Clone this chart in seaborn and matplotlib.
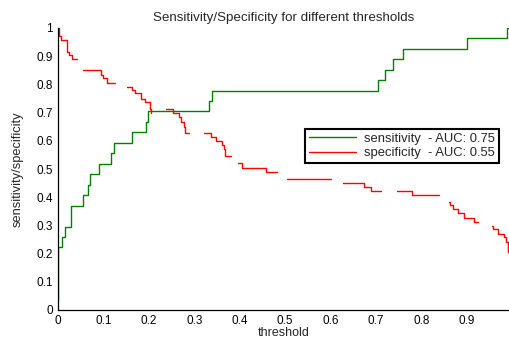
import numpy as np
import pandas as pd
import matplotlib
matplotlib.use("Agg")
import matplotlib.pyplot as plt
from matplotlib.lines import Line2D
import seaborn as sns

# === Data ===
# sensitivity: step curve (threshold where the step starts, value after it)
sens_t = [0.0, 0.0005, 0.0095, 0.015, 0.028, 0.056, 0.067, 0.071, 0.091, 0.116,
          0.124, 0.163, 0.193, 0.198, 0.332, 0.338, 0.704, 0.720, 0.737, 0.760,
          0.900, 0.988, 0.995]
sens_v = [0.037, 0.222, 0.259, 0.296, 0.370, 0.407, 0.444, 0.481, 0.519, 0.556,
          0.593, 0.630, 0.667, 0.704, 0.741, 0.778, 0.815, 0.852, 0.889, 0.926,
          0.963, 1.0, 1.0]

# specificity: drawn in pieces (the reference line is broken in places)
spec_t = [0.0, 0.0015, 0.003, 0.0066, 0.020, 0.0245, 0.031, 0.041,
          0.056, 0.0945, 0.098, 0.108, 0.125,
          0.151, 0.162, 0.169, 0.182, 0.191, 0.2035, 0.204, 0.205,
          0.237, 0.254, 0.267, 0.270, 0.278, 0.2785, 0.289,
          0.322, 0.336, 0.347, 0.362, 0.366, 0.367, 0.381,
          0.396, 0.404, 0.457, 0.482,
          0.504, 0.601,
          0.627, 0.673, 0.689, 0.711,
          0.746, 0.780, 0.838,
          0.860, 0.863, 0.869, 0.880, 0.894, 0.915, 0.924,
          0.955, 0.957, 0.968, 0.981, 0.986, 0.991, 0.995]
spec_v = [1.0, 0.985, 0.97, 0.957, 0.916, 0.904, 0.89, 0.89,
          0.852, 0.833, 0.821, 0.806, 0.806,
          0.792, 0.78, 0.768, 0.75, 0.739, 0.714, 0.70, 0.70,
          0.712, 0.70, 0.686, 0.668, 0.65, 0.627, 0.627,
          0.627, 0.612, 0.60, 0.585, 0.57, 0.546, 0.546,
          0.52, 0.505, 0.49, 0.49,
          0.464, 0.464,
          0.449, 0.435, 0.423, 0.423,
          0.423, 0.408, 0.408,
          0.382, 0.372, 0.358, 0.343, 0.327, 0.313, 0.313,
          0.299, 0.287, 0.27, 0.26, 0.242, 0.207, 0.207]
spec_seg = [0] * 8 + [1] * 5 + [2] * 8 + [3] * 7 + [4] * 7 + [5] * 4 + [6] * 2 + \
           [7] * 4 + [8] * 3 + [9] * 7 + [10] * 7

auc_sens = 0.75
auc_spec = 0.55

sens_df = pd.DataFrame({"t": sens_t, "v": sens_v})
spec_df = pd.DataFrame({"t": spec_t, "v": spec_v, "seg": spec_seg})

# === Plot ===
sns.set_style("white")
plt.rcParams["font.family"] = ["Liberation Sans", "DejaVu Sans"]

green = "#008000"
red = "#ff0000"

fig = plt.figure(figsize=(5.10, 3.39), dpi=100)
ax = fig.add_axes([58 / 510, 29 / 339, 452 / 510, 282 / 339])

sns.lineplot(data=sens_df, x="t", y="v", ax=ax, color=green, lw=1.0,
             drawstyle="steps-post", estimator=None, sort=False, legend=False)
sns.lineplot(data=spec_df, x="t", y="v", units="seg", ax=ax, color=red, lw=1.0,
             drawstyle="steps-post", estimator=None, sort=False, legend=False)

ax.set_xlim(0, 0.995)
ax.set_ylim(0, 1)
ax.set_xticks(np.arange(0, 0.95, 0.1))
ax.set_xticklabels(["0"] + [f"{v:.1f}" for v in np.arange(0.1, 0.95, 0.1)])
ax.set_yticks(np.arange(0, 1.05, 0.1))
ax.set_yticklabels(["0"] + [f"{v:.1f}" for v in np.arange(0.1, 0.95, 0.1)] + ["1"])
ax.tick_params(direction="in", length=4, width=0.8, labelsize=8.5, pad=3.5,
               colors="black")

for side in ["top", "right"]:
    ax.spines[side].set_visible(False)
for side in ["left", "bottom"]:
    ax.spines[side].set_color("black")
    ax.spines[side].set_linewidth(0.9)

ax.set_title("Sensitivity/Specificity for different thresholds", fontsize=9.6, pad=5)
ax.set_xlabel("threshold", fontsize=9, labelpad=0)
ax.set_ylabel("sensitivity/specificity", fontsize=9.3, labelpad=9)

handles = [Line2D([], [], color=green, lw=1.0), Line2D([], [], color=red, lw=1.0)]
labels = [f"sensitivity  - AUC: {auc_sens:.2f}", f"specificity  - AUC: {auc_spec:.2f}"]
leg = ax.legend(handles, labels, loc="upper right",
                bbox_to_anchor=(499 / 510, 1 - 129 / 339),
                bbox_transform=fig.transFigure, fontsize=9.4, frameon=True,
                fancybox=False, handlelength=3.6, handletextpad=0.6,
                labelspacing=0.15, borderpad=0.3, borderaxespad=0)
leg.get_frame().set_edgecolor("black")
leg.get_frame().set_linewidth(1.5)
leg.get_frame().set_alpha(1)

fig.savefig("out.png", dpi=100)
